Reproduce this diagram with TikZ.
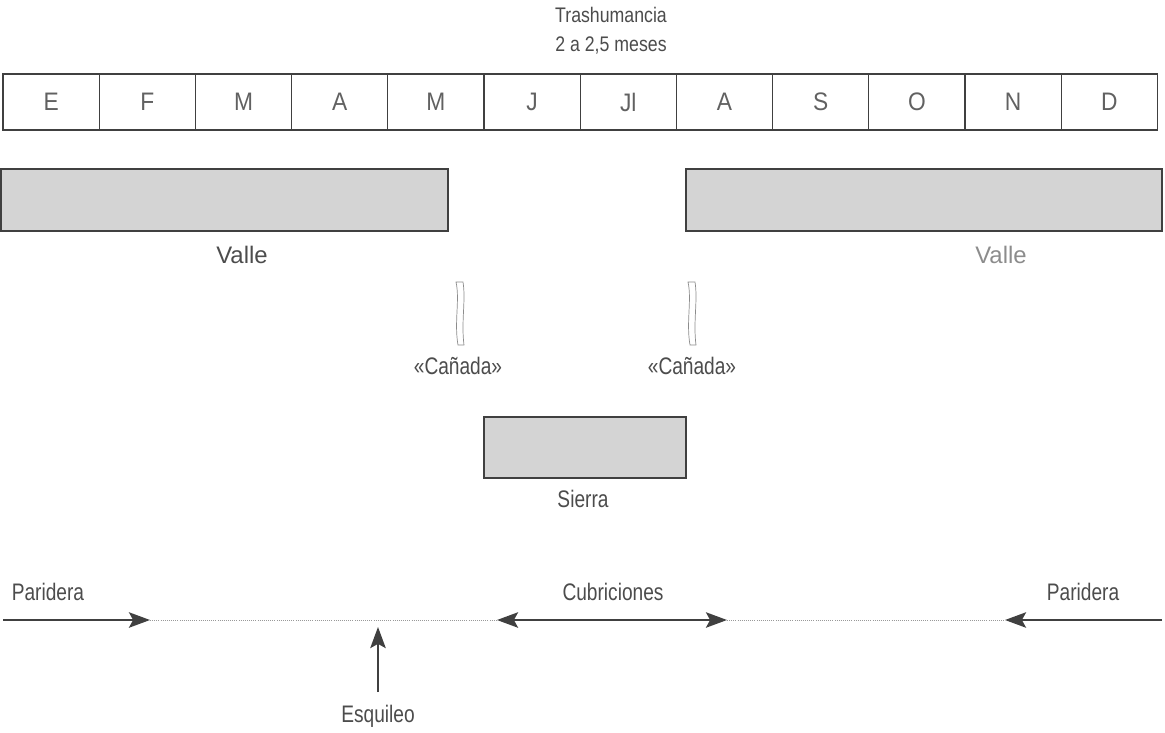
\documentclass[tikz,border=0pt]{standalone}
\usepackage{fontspec}
\setmainfont{Liberation Sans}
\newfontfamily\narrowfont[FakeStretch=0.8]{Liberation Sans}
\newfontfamily\monthfont[FakeStretch=0.9]{Liberation Sans}
\newfontfamily\titlefont[FakeStretch=0.84]{Liberation Sans}
\usepackage{tikz}
\usetikzlibrary{
    arrows.meta,
    positioning,
}

\begin{document}
\begin{tikzpicture}[
        x=0.025cm, y=-0.025cm,
        >={Stealth[length=15pt, width=11pt, inset=3pt]},
        month/.style={
            rectangle, draw=black!75, line width=0.9pt, inner sep=0pt,
            minimum width=2.405cm, minimum height=1.4cm,
            font=\monthfont\fontsize{18}{20}\selectfont, text=black!62
        },
        zone/.style={
            rectangle, draw=black!75, line width=1.3pt, fill=black!17,
            inner sep=0pt, minimum height=1.55cm, anchor=north west
        },
        lbl/.style={font=\narrowfont\fontsize{17}{19}\selectfont, text=black!70},
        vlbl/.style={font=\fontsize{17}{19}\selectfont, text=black!70},
        toplbl/.style={font=\titlefont\fontsize{15}{20.5}\selectfont, text=black!70, align=center},
        arrow/.style={->, line width=1.3pt, black!75},
        period/.style={densely dotted, line width=0.5pt, black!40},
        canada/.style={draw=black!45, line width=0.5pt},
    ]

    \useasboundingbox (0,0) rectangle (1165,732);

    % ── Months ──
    \foreach \m [count=\i] in {E,F,M,A,M,J,Jl,A,S,O,N,D} {
        \node[month] (m\i) at ({3+96.2*(\i-0.5)},102) {\m};
    }
    \node[toplbl] (trash) at (611,31) {Trashumancia\\2 a 2,5 meses};

    % ── Valle / Sierra ──
    \node[zone, minimum width=11.175cm] (valleL) at (0,168) {};
    \node[zone, minimum width=11.9cm] (valleR) at (685,168) {};
    \node[zone, minimum width=5.05cm, minimum height=1.525cm] (sierra) at (483,416) {};

    \node[vlbl] (vL) at (242,255) {Valle};
    \node[vlbl, text=black!45] (vR) at (1001,255) {Valle};
    \node[lbl] (sierraL) at (583,499) {Sierra};

    % ── Cañadas ──
    \draw[canada] (456,282) .. controls (460,300) and (454,322) .. (458,345)
        -- (464,345) .. controls (461,322) and (466,300) .. (463,282) -- cycle;
    \draw[canada] (688,282) .. controls (692,300) and (686,322) .. (690,345)
        -- (696,345) .. controls (693,322) and (698,300) .. (695,282) -- cycle;
    \node[lbl] (can1) at (458,366) {«Cañada»};
    \node[lbl] (can2) at (692,366) {«Cañada»};

    % ── Bottom timeline ──
    \coordinate (p1) at (3,620);
    \coordinate (p2) at (150,620);
    \coordinate (c1) at (497,620);
    \coordinate (c2) at (727,620);
    \coordinate (p3) at (1005,620);
    \coordinate (p4) at (1162,620);
    \coordinate (e1) at (378,692);
    \coordinate (e2) at (378,627);

    \node[lbl] (par1) at (48,592) {Paridera};
    \node[lbl] (cub) at (613,592) {Cubriciones};
    \node[lbl] (par2) at (1083,592) {Paridera};
    \node[lbl] (esq) at (378,716) {Esquileo};

    \draw[arrow] (p1) -- (p2);
    \draw[period] (p2) -- (c1);
    \draw[arrow, <->] (c1) -- (c2);
    \draw[period] (c2) -- (p3);
    \draw[arrow] (p4) -- (p3);
    \draw[arrow] (e1) -- (e2);

\end{tikzpicture}
\end{document}
